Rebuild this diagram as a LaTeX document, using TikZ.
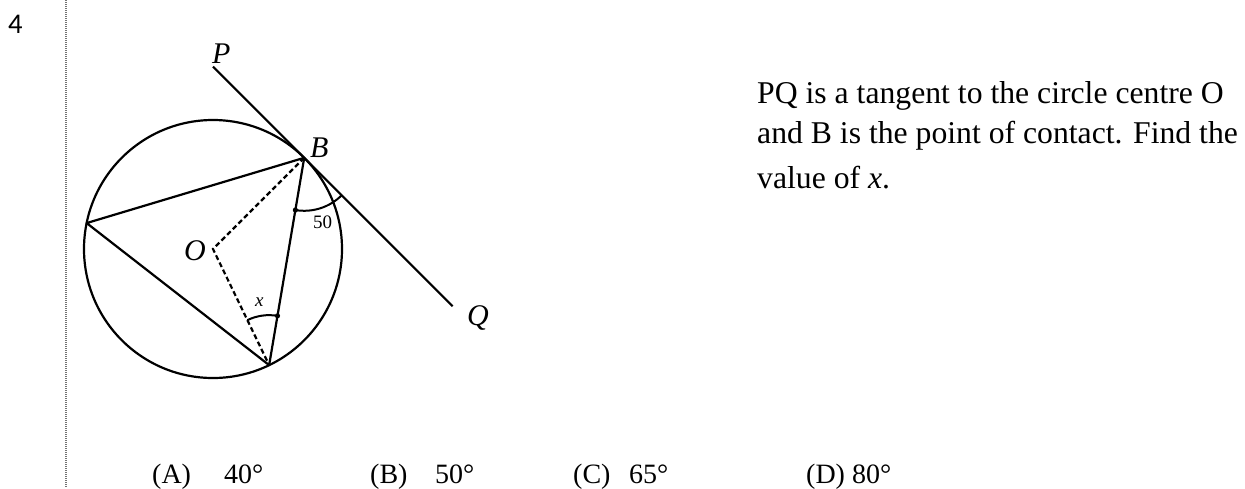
\documentclass[tikz,border=0pt]{standalone}
\usepackage{fontspec}
\setmainfont{Liberation Serif}
\newfontfamily\numfont{Carlito}
\usetikzlibrary{calc}
\begin{document}
\begin{tikzpicture}[x=1pt,y=-1pt,
  geo/.style={line width=2.2pt, black, line join=round},
  arcline/.style={line width=2pt, black},
  dashline/.style={line width=2.2pt, black, dash pattern=on 5pt off 3pt},
  sepline/.style={line width=1.2pt, black!55, dash pattern=on 1pt off 1pt},
  lbl/.style={font=\fontsize{30}{36}\selectfont\itshape, inner sep=0, anchor=base west},
  small/.style={font=\fontsize{19}{23}\selectfont, inner sep=0, anchor=base west},
  body/.style={font=\fontsize{31.7}{38}\selectfont, inner sep=0, anchor=base west},
  ans/.style={font=\fontsize{28}{34}\selectfont, inner sep=0, anchor=base west}]
\useasboundingbox (0,0) rectangle (1245,488);
% separator
\coordinate (s1) at (66,0);
\coordinate (s2) at (66,488);
\draw[sepline] (s1) -- (s2);
\node[anchor=base west, inner sep=0, font=\numfont\fontsize{28.5}{34}\selectfont] (num) at (8,33) {4};
% geometry
\coordinate (O) at (213,249);
\coordinate (B) at ($(O)+(-45:129)$);
\coordinate (A) at ($(O)+(191.6:129)$);
\coordinate (C) at ($(O)+(64.2:129)$);
\coordinate (P) at ($(B)+(225:129)$);
\coordinate (Q) at ($(B)+(45:210)$);
\draw[geo] (O) circle[radius=129];
\draw[geo] (P) -- (Q);
\draw[geo] (A) -- (B) -- (C) -- cycle;
\draw[dashline] (B) -- (O) -- (C);
% angle at B
\draw[arcline] ($(B)+(45:53)$) arc[start angle=45, end angle=99.6, radius=53];
\fill ($(B)+(99.6:53)$) circle[radius=2.6];
% angle at C
\draw[arcline] ($(C)+(-115.8:50)$) arc[start angle=-115.8, end angle=-80.4, radius=50];
\fill ($(C)+(-80.4:50)$) circle[radius=2.6];
% labels
\node[lbl] (lP) at (212,63) {P};
\node[lbl] (lB) at (310,157) {B};
\node[lbl] (lO) at (184,260) {O};
\node[lbl] (lQ) at (467,325) {Q};
\node[small, font=\fontsize{19}{23}\selectfont\itshape] (lx) at (255,306) {x};
\node[small] (l50) at (313,228) {50};
% text
\node[body] (t1) at (757,103) {PQ is a tangent to the circle centre O};
\node[body] (t2) at (757,143) {and B is the point of contact. Find the};
\node[body] (t3) at (757,188) {value of \textit{x}.};
% answers
\node[ans] (a1) at (152,483) {(A)};
\node[ans] (a2) at (224,483) {40°};
\node[ans] (b1) at (370,483) {(B)};
\node[ans] (b2) at (435,483) {50°};
\node[ans] (c1) at (573,483) {(C)};
\node[ans] (c2) at (629,483) {65°};
\node[ans] (d1) at (806,483) {(D) 80°};
\end{tikzpicture}
\end{document}
